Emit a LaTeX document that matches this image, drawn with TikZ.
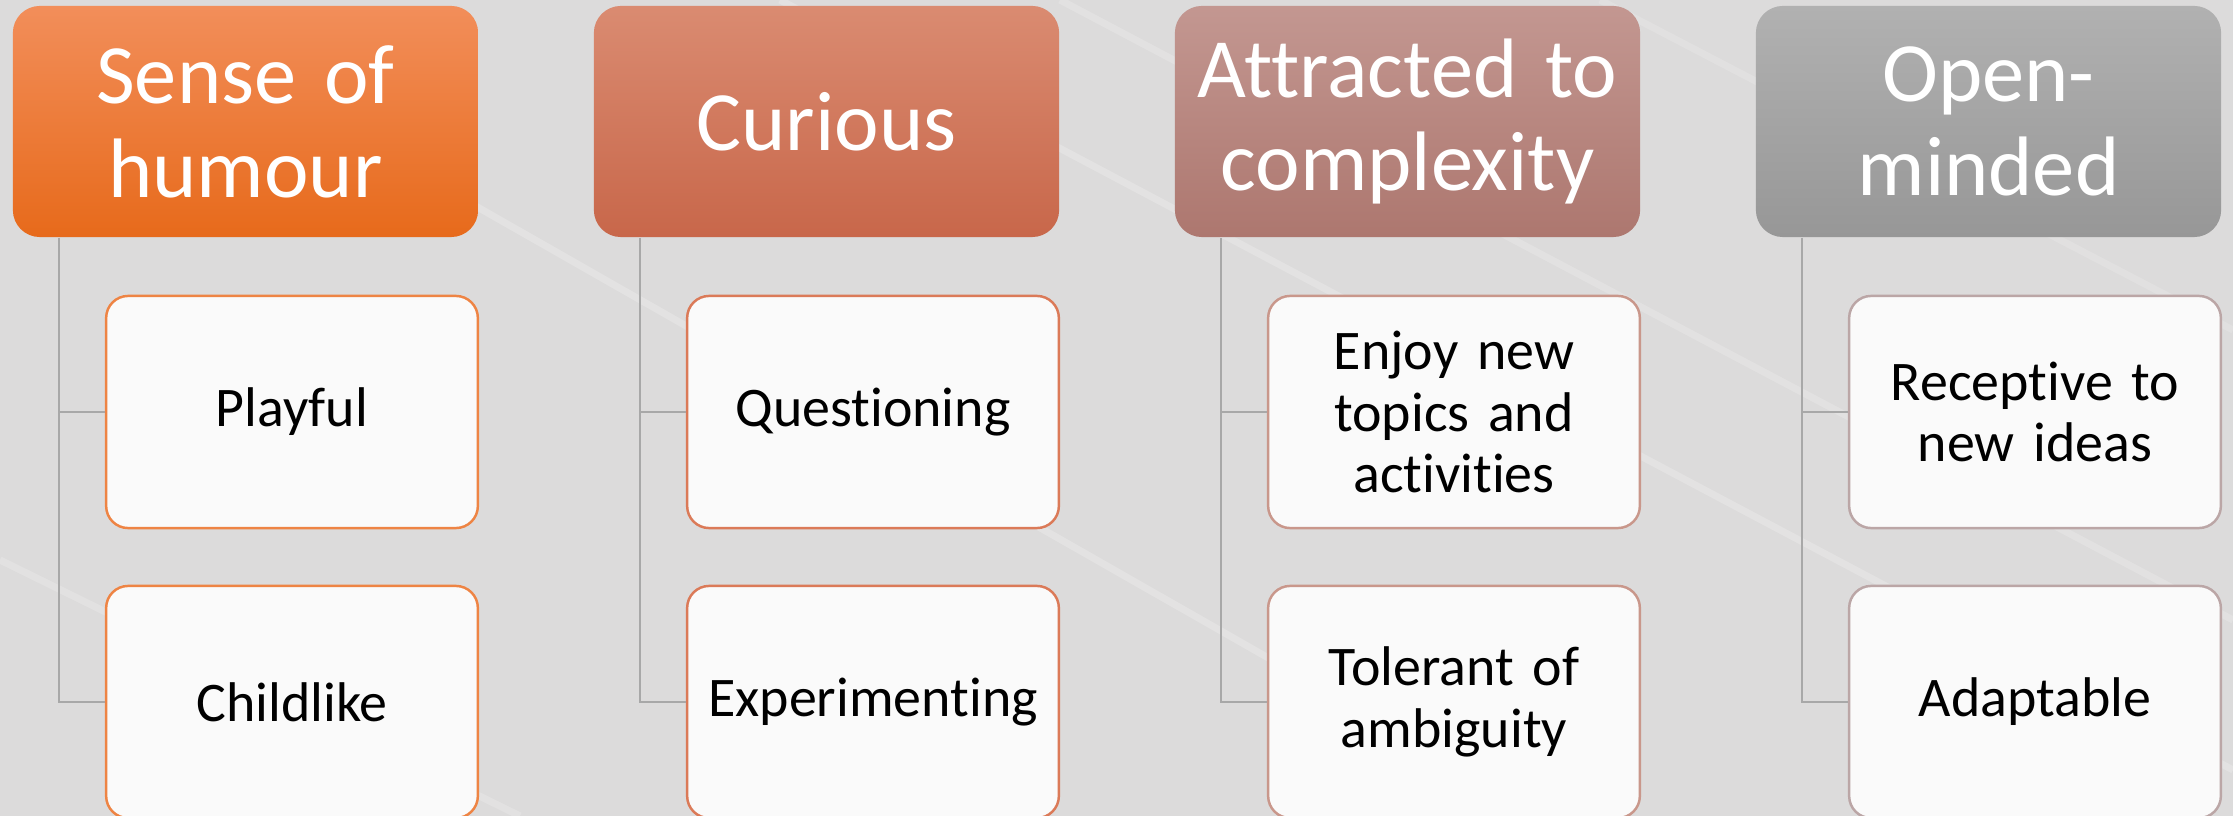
\documentclass[tikz,border=0pt]{standalone}
\usepackage{fontspec}
\setmainfont[Ligatures={NoCommon,NoContextual}, WordSpace=0.88]{Carlito}
\usetikzlibrary{positioning}

% colours of the four columns
\definecolor{hdrTop1}{HTML}{F28E5A}
\definecolor{hdrBot1}{HTML}{E76A1B}
\definecolor{hdrTop2}{HTML}{DA8B71}
\definecolor{hdrBot2}{HTML}{C8674A}
\definecolor{hdrTop3}{HTML}{C39791}
\definecolor{hdrBot3}{HTML}{AD776F}
\definecolor{hdrTop4}{HTML}{B1B1B1}
\definecolor{hdrBot4}{HTML}{979797}
\definecolor{edge1}{HTML}{EE8444}
\definecolor{edge2}{HTML}{DB7A58}
\definecolor{edge3}{HTML}{C9978B}
\definecolor{edge4}{HTML}{BBA6A6}
\definecolor{bgGray}{HTML}{DCDBDB}
\definecolor{boxWhite}{HTML}{FAFAFA}
\definecolor{connGray}{HTML}{A8A8A8}

\begin{document}
\begin{tikzpicture}[x=0.01cm, y=-0.01cm,
  hdr/.style={rounded corners=0.27cm, minimum width=4.65cm, minimum height=2.31cm,
    inner sep=0pt, text width=4.5cm, align=center, text=white,
    font=\fontsize{24}{26.7}\selectfont},
  item/.style={draw, line width=0.7pt, fill=boxWhite, rounded corners=0.22cm,
    minimum width=3.715cm, minimum height=2.32cm, inner sep=0pt, text width=3.5cm,
    align=center, font=\fontsize{15.9}{17.6}\selectfont},
  conn/.style={draw=connGray, line width=0.7pt}]
% background with faint light streaks
\fill[bgGray] (0,0) rectangle (2233,816);
\useasboundingbox (0,0) rectangle (2233,816);
\draw[white, opacity=0.2, line width=2pt] (430,180) -- (1500,790);
\draw[white, opacity=0.2, line width=2pt] (780,0) -- (2233,770);
\draw[white, opacity=0.18, line width=2pt] (1060,0) -- (2233,620);
\draw[white, opacity=0.18, line width=2pt] (0,560) -- (520,816);
\draw[white, opacity=0.15, line width=2pt] (1600,0) -- (2233,330);
% columns: header, two items, connectors
\foreach \i/\x/\head/\ta/\tb in {
    1/13/{Sense of\\humour}/{Playful}/{Childlike},
    2/594/{Curious}/{Questioning}/{Experimenting},
    3/1175/{Attracted to\\complexity}/{Enjoy new\\topics and\\activities}/{Tolerant of\\ambiguity},
    4/1756/{Open-\\minded}/{Receptive to\\new ideas}/{Adaptable}}{
  \node[hdr, top color=hdrTop\i, bottom color=hdrBot\i] (hdr\i) at (\x+232.5,121.5) {\head};
  \node[item, draw=edge\i] (top\i) at (\x+279,412) {\ta};
  \node[item, draw=edge\i] (bot\i) at (\x+279,702) {\tb};
  \draw[conn] ([xshift=0.47cm]hdr\i.south west) |- (top\i.west);
  \draw[conn] ([xshift=0.47cm]hdr\i.south west) |- (bot\i.west);
}
\end{tikzpicture}
\end{document}
